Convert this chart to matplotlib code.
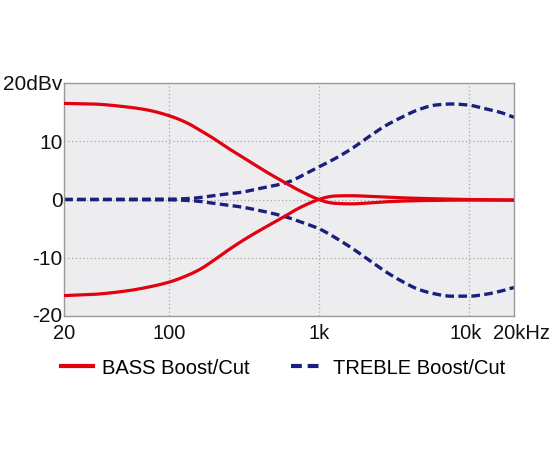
import numpy as np
import matplotlib
matplotlib.use('Agg')
import matplotlib.pyplot as plt
from matplotlib.ticker import FixedLocator, NullLocator
from matplotlib.lines import Line2D
from matplotlib.transforms import ScaledTranslation

# frequency points (Hz)
bass_freq = [20, 31, 52, 71, 100, 131, 161, 198, 242, 313, 404, 549, 747, 1000,
             1154, 1278, 1650, 2133, 2754, 4592, 10000, 20000]
bass_boost = [16.5, 16.4, 15.9, 15.4, 14.4, 13.2, 11.9, 10.5, 9.0, 7.2, 5.4, 3.4, 1.5, 0.0,
              -0.5, -0.65, -0.75, -0.6, -0.4, -0.2, -0.1, -0.1]
bass_cut = [-16.5, -16.3, -15.7, -15.1, -14.2, -13.1, -12.0, -10.5, -8.9, -7.0, -5.3, -3.4, -1.4, 0.0,
            0.45, 0.6, 0.65, 0.55, 0.4, 0.2, 0.0, -0.1]

treble_freq = [20, 100, 141, 219, 298, 404, 549, 641, 747, 871, 1000, 1278, 1650, 2133,
               2754, 3556, 4592, 5930, 7656, 10000, 12780, 16500, 20000]
treble_boost = [0.0, 0.05, 0.2, 0.8, 1.2, 1.9, 2.6, 3.1, 3.9, 4.8, 5.6, 7.0, 8.7, 10.7,
                12.6, 14.1, 15.4, 16.2, 16.4, 16.2, 15.6, 14.9, 14.1]
treble_cut = [0.0, -0.05, -0.2, -0.8, -1.25, -1.9, -2.7, -3.2, -3.8, -4.4, -5.0, -6.5, -8.3, -10.3,
              -12.3, -14.0, -15.4, -16.2, -16.6, -16.6, -16.3, -15.7, -15.1]

xticks = [20, 100, 1000, 10000, 20000]
xlabels = ['20', '100', '1k', '10k', '20kHz']
yticks = [-20, -10, 0, 10, 20]
ylabels = ['-20', '-10', '0', '10', '20dBv']

red = '#e3000f'
navy = '#1b1f7e'
grid_c = '#a8a8a8'

plt.rcParams['font.family'] = ['Liberation Sans', 'DejaVu Sans']


#shape-preserving cubic (Fritsch-Carlson) in log frequency
def pchip(xs, ys, n=600):
    x = np.log10(np.asarray(xs, float))
    y = np.asarray(ys, float)
    h = np.diff(x)
    d = np.diff(y) / h
    m = np.zeros_like(y)
    m[0], m[-1] = d[0], d[-1]
    for i in range(1, len(y) - 1):
        if d[i - 1] * d[i] > 0:
            w1 = 2 * h[i] + h[i - 1]
            w2 = h[i] + 2 * h[i - 1]
            m[i] = (w1 + w2) / (w1 / d[i - 1] + w2 / d[i])
    fine = np.linspace(x[0], x[-1], n)
    idx = np.clip(np.searchsorted(x, fine) - 1, 0, len(h) - 1)
    t = (fine - x[idx]) / h[idx]
    h00 = 2 * t**3 - 3 * t**2 + 1
    h10 = t**3 - 2 * t**2 + t
    h01 = -2 * t**3 + 3 * t**2
    h11 = t**3 - t**2
    out = h00 * y[idx] + h10 * h[idx] * m[idx] + h01 * y[idx + 1] + h11 * h[idx] * m[idx + 1]
    return 10 ** fine, out


fig = plt.figure(figsize=(5.5, 4.5), dpi=100)
ax = fig.add_axes([64 / 550, 1 - 316 / 450, 450 / 550, 233 / 450])
ax.set_facecolor('#ededf0')

for ys in (bass_boost, bass_cut):
    fx, fy = pchip(bass_freq, ys)
    ax.plot(fx, fy, color=red, lw=2.3, zorder=3)
for ys in (treble_boost, treble_cut):
    fx, fy = pchip(treble_freq, ys)
    ax.plot(fx, fy, color=navy, lw=2.4, dashes=(2.6, 1.3), zorder=2)

ax.set_xscale('log')
ax.set_xlim(20, 20000)
ax.set_ylim(-20, 20)
ax.xaxis.set_major_locator(FixedLocator(xticks))
ax.xaxis.set_minor_locator(NullLocator())
ax.set_xticklabels(xlabels)
ax.set_yticks(yticks)
ax.set_yticklabels(ylabels)

for f in [100, 1000, 10000]:
    ax.axvline(f, color=grid_c, lw=0.9, ls=(0, (1, 2)), zorder=1)
for v in [-10, 0, 10]:
    ax.axhline(v, color=grid_c, lw=0.9, ls=(0, (1, 2)), zorder=1)

for s in ax.spines.values():
    s.set_color('#9a9a9a')
    s.set_linewidth(1.0)

ax.tick_params(length=0, labelsize=14.5, colors='#111111')
ax.tick_params(axis='x', pad=6)
ax.tick_params(axis='y', pad=1, labelsize=15)

# nudge the last two x labels like the original
xl = ax.get_xticklabels()
xl[3].set_transform(xl[3].get_transform() + ScaledTranslation(-3 / 100, 0, fig.dpi_scale_trans))
xl[4].set_transform(xl[4].get_transform() + ScaledTranslation(7 / 100, 0, fig.dpi_scale_trans))
yl = ax.get_yticklabels()
yl[0].set_transform(yl[0].get_transform() + ScaledTranslation(0, 2 / 100, fig.dpi_scale_trans))

handles = [Line2D([], [], color=red, lw=3.0),
           Line2D([], [], color=navy, lw=3.0, dashes=(2.6, 1.4))]
fig.legend(handles, ['BASS Boost/Cut', 'TREBLE Boost/Cut'], loc='center left',
           bbox_to_anchor=(53 / 550, 1 - 368 / 450), ncol=2, frameon=False, fontsize=14.5,
           handlelength=1.6, handletextpad=0.45, columnspacing=2.05, borderaxespad=0)

fig.savefig('out.png', dpi=100)
